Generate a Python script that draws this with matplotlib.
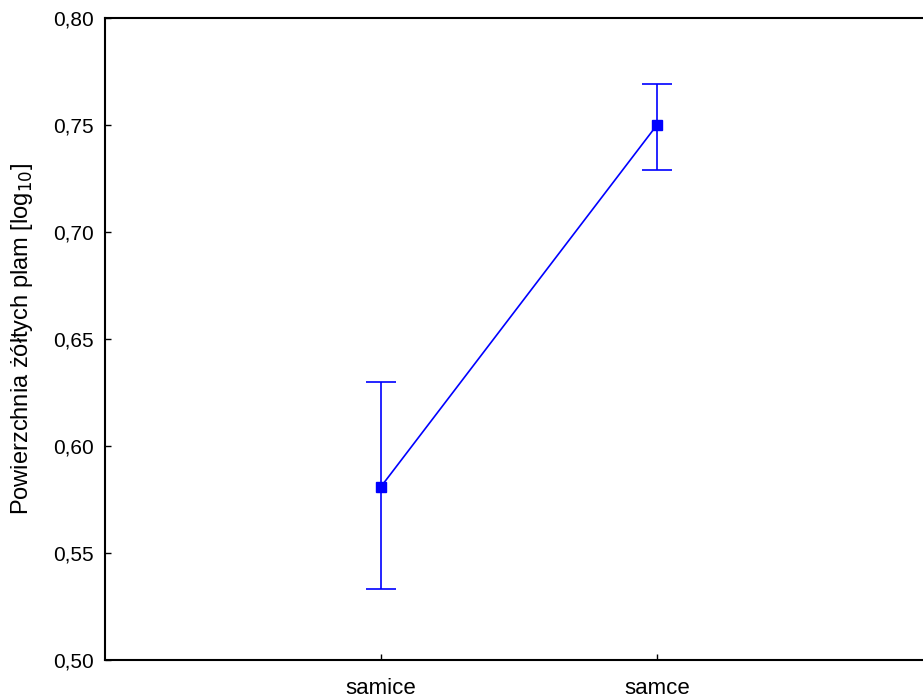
import numpy as np
import matplotlib.pyplot as plt
from matplotlib.ticker import FuncFormatter

plt.rcParams['font.family'] = ['Liberation Sans', 'DejaVu Sans']

groups = ['samice', 'samce']
means = [0.581, 0.750]
upper = [0.630, 0.769]
lower = [0.533, 0.729]

x = np.arange(len(groups))
err = [np.array(means) - np.array(lower), np.array(upper) - np.array(means)]

fig = plt.figure(figsize=(9.23, 7.0), dpi=100)
ax = fig.add_axes([105 / 923, 40 / 700, 1 - 105 / 923, 642 / 700])

ax.errorbar(x, means, yerr=err, color='#0000ff', lw=1.2, marker='s', ms=7,
            capsize=11, capthick=1.2, elinewidth=1.2)

ax.set_xlim(-1.0, 1.964)
ax.set_ylim(0.50, 0.80)
ax.set_yticks(np.arange(0.50, 0.801, 0.05))
ax.yaxis.set_major_formatter(FuncFormatter(lambda v, p: f'{v:.2f}'.replace('.', ',')))
ax.set_xticks(x)
ax.set_xticklabels(groups)
ax.tick_params(direction='in', length=4, width=1, labelsize=15, pad=8)
ax.tick_params(axis='x', labelsize=16, pad=13)
ax.spines['right'].set_visible(False)
for s in ['left', 'bottom', 'top']:
    ax.spines[s].set_linewidth(1.5)

ax.set_ylabel('Powierzchnia żółtych plam [log$_{10}$]', fontsize=17, labelpad=13)

fig.savefig('out.png', dpi=100)
